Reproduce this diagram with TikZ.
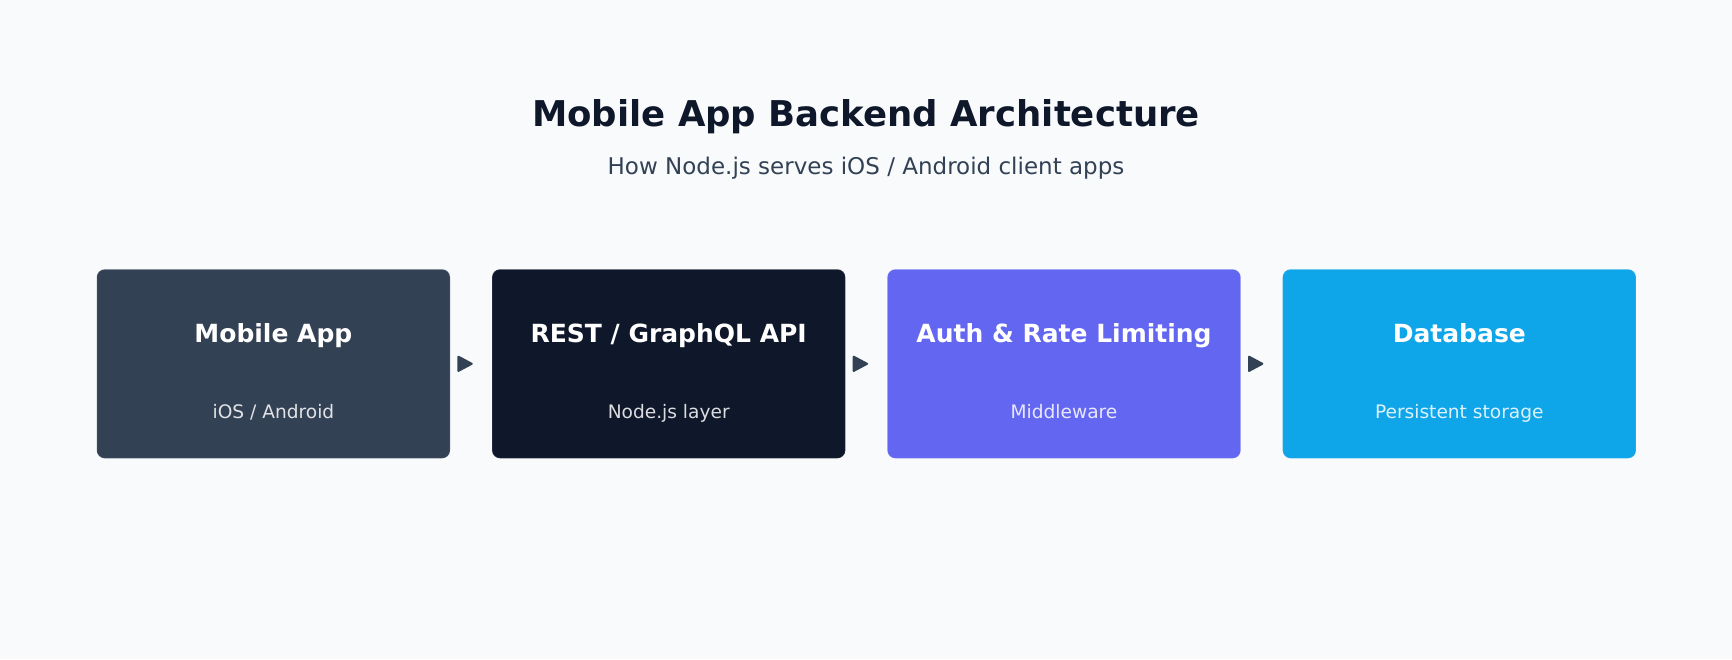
\documentclass[tikz,border=0pt]{standalone}
\usepackage{fontspec}
\setmainfont{DejaVu Sans}
\usetikzlibrary{positioning,arrows.meta}

\definecolor{pagebg}{HTML}{F8FAFC}
\definecolor{inkdark}{HTML}{0F172A}
\definecolor{inkslate}{HTML}{334155}
\definecolor{mobilefill}{HTML}{334155}
\definecolor{apifill}{HTML}{0F172A}
\definecolor{authfill}{HTML}{6366F1}
\definecolor{dbfill}{HTML}{0EA5E9}

\begin{document}
\begin{tikzpicture}[x=1pt,y=1pt,
	StageStyle/.style = {rectangle, rounded corners=8pt, inner sep=0pt, outer sep=0pt,
		minimum width=353.3pt, minimum height=189pt,
		draw=white, draw opacity=0.12, line width=1pt},
	StageTitle/.style = {anchor=base, inner sep=0pt, text=white,
		font=\bfseries\fontsize{25}{30}\selectfont},
	StageNote/.style = {anchor=base, inner sep=0pt, text=white, text opacity=0.85,
		font=\fontsize{18.6}{22}\selectfont},
	FlowStyle/.style = {draw=inkslate, line width=2pt, line join=round,
		-{Triangle[length=16.5pt,width=17pt,round]},
		shorten <=10pt, shorten >=19.3pt}]
	\useasboundingbox (0,0) rectangle (1732,-659);
	\fill[pagebg] (0,0) rectangle (1732,-659);
	% heading
		\node[anchor=base, inner sep=0pt, text=inkdark,
			font=\bfseries\fontsize{35.5}{42}\selectfont] (Head) at (866,-126)
			{Mobile App Backend Architecture};
		\node[anchor=base, inner sep=0pt, text=inkslate,
			font=\fontsize{23}{28}\selectfont] (SubHead) at (866,-174)
			{How Node.js serves iOS / Android client apps};
	% stages
		\node[StageStyle, fill=mobilefill] (Mobile) at (273.4,-363.8) {};
		\node[StageStyle, fill=apifill, right=42pt of Mobile] (Api) {};
		\node[StageStyle, fill=authfill, right=42pt of Api] (Auth) {};
		\node[StageStyle, fill=dbfill, right=42pt of Auth] (Db) {};
		\node[StageTitle] (MobileT) at ([yshift=21.1pt]Mobile.center) {Mobile App};
		\node[StageNote] (MobileN) at ([yshift=-54.5pt]Mobile.center) {iOS / Android};
		\node[StageTitle] (ApiT) at ([yshift=21.1pt]Api.center) {REST / GraphQL API};
		\node[StageNote] (ApiN) at ([yshift=-54.5pt]Api.center) {Node.js layer};
		\node[StageTitle] (AuthT) at ([yshift=21.1pt]Auth.center) {Auth \& Rate Limiting};
		\node[StageNote] (AuthN) at ([yshift=-54.5pt]Auth.center) {Middleware};
		\node[StageTitle] (DbT) at ([yshift=21.1pt]Db.center) {Database};
		\node[StageNote] (DbN) at ([yshift=-54.5pt]Db.center) {Persistent storage};
	% flow
		\draw[FlowStyle] (Mobile.east) -- (Api.west);
		\draw[FlowStyle] (Api.east) -- (Auth.west);
		\draw[FlowStyle] (Auth.east) -- (Db.west);
\end{tikzpicture}
\end{document}
